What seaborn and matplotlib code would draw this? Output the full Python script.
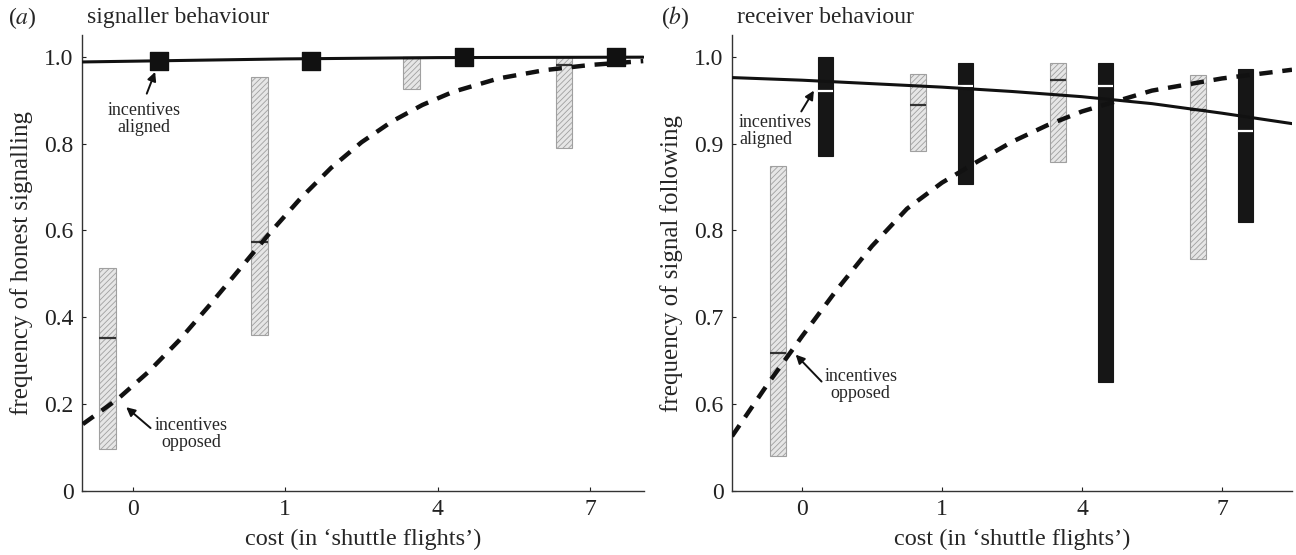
import matplotlib
matplotlib.use('Agg')
import matplotlib.pyplot as plt
import numpy as np
import pandas as pd
import seaborn as sns

# cost levels (categorical x axis)
costs = ['0', '1', '4', '7']

# (a) signaller behaviour -- incentives opposed (hatched boxes)
a_opp_lo = [0.097, 0.359, 0.926, 0.790]
a_opp_hi = [0.514, 0.954, 0.998, 1.000]
a_opp_med = [0.353, 0.574, 0.998, 0.980]
# (a) incentives aligned (black squares)
a_ali = [0.991, 0.991, 1.000, 1.000]

# fitted curves (x in category units)
a_fit_x = [-0.33, 1.0, 2.0, 3.35]
a_fit_ali = [0.988, 0.995, 0.998, 0.999]
a_fit_opp_x = [-0.33, -0.1, 0.1, 0.3, 0.5, 0.7, 0.9, 1.1, 1.3, 1.5, 1.7, 1.9,
               2.1, 2.4, 2.7, 3.0, 3.35]
a_fit_opp = [0.154, 0.212, 0.274, 0.346, 0.427, 0.511, 0.595, 0.674, 0.744,
             0.803, 0.851, 0.889, 0.919, 0.950, 0.969, 0.981, 0.990]

# (b) receiver behaviour
b_opp_lo = [0.540, 0.891, 0.879, 0.767]
b_opp_hi = [0.874, 0.980, 0.993, 0.979]
b_opp_med = [0.659, 0.945, 0.973, 0.939]
b_ali_lo = [0.886, 0.853, 0.626, 0.810]
b_ali_hi = [1.000, 0.993, 0.993, 0.986]
b_ali_med = [0.960, 0.966, 0.966, 0.914]

b_fit_x = [-0.5, 0.0, 0.5, 1.0, 1.5, 2.0, 2.5, 3.0, 3.5]
b_fit_ali = [0.976, 0.973, 0.969, 0.965, 0.960, 0.954, 0.946, 0.935, 0.923]
b_fit_opp_x = [-0.5, -0.25, 0.0, 0.25, 0.5, 0.75, 1.0, 1.25, 1.5, 1.75, 2.0,
               2.5, 3.0, 3.5]
b_fit_opp = [0.563, 0.622, 0.678, 0.732, 0.782, 0.825, 0.855, 0.879, 0.902,
             0.921, 0.937, 0.961, 0.975, 0.985]

sns.set_style('ticks')
plt.rcParams['font.family'] = ['Liberation Serif', 'DejaVu Serif']
plt.rcParams['mathtext.fontset'] = 'stix'
plt.rcParams['hatch.color'] = '#8a8a8a'
plt.rcParams['hatch.linewidth'] = 0.6

fig = plt.figure(figsize=(12.96, 5.55), dpi=100)
ax1 = fig.add_axes([0.0633, 0.1153, 0.4336, 0.8216])
ax2 = fig.add_axes([0.5648, 0.1153, 0.4321, 0.8216])

off = 0.17
w = 0.11
pos = np.arange(len(costs))
arrow = dict(arrowstyle='-|>', color='#111111', lw=1.4, mutation_scale=13,
             shrinkA=0, shrinkB=0)


def hatched(ax, lo, hi, med):
    lo, hi = np.array(lo), np.array(hi)
    ax.bar(pos - off, hi - lo, bottom=lo, width=w, color='#e6e6e6',
           edgecolor='#a0a0a0', hatch='//////', linewidth=0.8, zorder=2)
    ax.hlines(med, pos - off - w / 2, pos - off + w / 2, color='#333333',
              lw=1.6, zorder=3)


def curves(ax, xs, ys, xd, yd):
    sns.lineplot(x=xs, y=ys, ax=ax, color='#111111', lw=2.2, zorder=4,
                 sort=False, estimator=None)
    sns.lineplot(x=xd, y=yd, ax=ax, color='#111111', lw=3.2, zorder=4,
                 sort=False, estimator=None, dashes=False, linestyle=(0, (3, 2.2)))


# ---- panel (a)
hatched(ax1, a_opp_lo, a_opp_hi, a_opp_med)
curves(ax1, a_fit_x, a_fit_ali, a_fit_opp_x, a_fit_opp)
sns.scatterplot(x=pos + off, y=a_ali, ax=ax1, marker='s', s=150, color='#111111',
                edgecolor='#111111', zorder=5)
ax1.set_xlim(-0.335, 3.355)
ax1.set_ylim(0, 1.05)
ax1.set_yticks([0, 0.2, 0.4, 0.6, 0.8, 1.0])
ax1.set_yticklabels(['0', '0.2', '0.4', '0.6', '0.8', '1.0'])
ax1.set_ylabel('frequency of honest signalling', fontsize=18, labelpad=8)
ax1.annotate('', xy=(0.145, 0.965), xytext=(0.09, 0.915), arrowprops=arrow)
ax1.text(0.07, 0.857, 'incentives\naligned', ha='center', va='center',
         fontsize=13, linespacing=1.0)
ax1.annotate('', xy=(-0.045, 0.193), xytext=(0.115, 0.145), arrowprops=arrow)
ax1.text(0.38, 0.131, 'incentives\nopposed', ha='center', va='center',
         fontsize=13, linespacing=1.0)

# ---- panel (b)
hatched(ax2, b_opp_lo, b_opp_hi, b_opp_med)
lo, hi = np.array(b_ali_lo), np.array(b_ali_hi)
ax2.bar(pos + off, hi - lo, bottom=lo, width=w, color='#161616',
        edgecolor='#161616', linewidth=0.8, zorder=2)
ax2.hlines(b_ali_med, pos + off - w / 2, pos + off + w / 2, color='white',
           lw=1.6, zorder=3)
curves(ax2, b_fit_x, b_fit_ali, b_fit_opp_x, b_fit_opp)
ax2.set_xlim(-0.5, 3.5)
ax2.set_ylim(0.5, 1.025)
ax2.set_yticks([0.5, 0.6, 0.7, 0.8, 0.9, 1.0])
ax2.set_yticklabels(['0', '0.6', '0.7', '0.8', '0.9', '1.0'])
ax2.set_ylabel('frequency of signal following', fontsize=18, labelpad=8)
ax2.annotate('', xy=(0.085, 0.961), xytext=(-0.005, 0.937), arrowprops=arrow)
ax2.text(-0.45, 0.914, 'incentives\naligned', ha='left', va='center',
         fontsize=13, linespacing=1.0)
ax2.annotate('', xy=(-0.045, 0.657), xytext=(0.14, 0.626), arrowprops=arrow)
ax2.text(0.42, 0.622, 'incentives\nopposed', ha='center', va='center',
         fontsize=13, linespacing=1.0)

for ax in (ax1, ax2):
    ax.set_xticks(pos)
    ax.set_xticklabels(costs)
    ax.set_xlabel('cost (in \u2018shuttle flights\u2019)', fontsize=17.5, labelpad=6)
    ax.tick_params(axis='both', direction='in', length=3, width=0.8,
                   labelsize=17, colors='#222222', pad=6)
    for s in ('left', 'bottom'):
        ax.spines[s].set_color('#333333')
        ax.spines[s].set_linewidth(1.0)
    sns.despine(ax=ax)

fig.text(0.006, 0.968, '($a$)', fontsize=17, va='center')
fig.text(0.067, 0.968, 'signaller behaviour', fontsize=17, va='center')
fig.text(0.510, 0.968, '($b$)', fontsize=17, va='center')
fig.text(0.569, 0.968, 'receiver behaviour', fontsize=17, va='center')

fig.savefig('out.png', dpi=100)
